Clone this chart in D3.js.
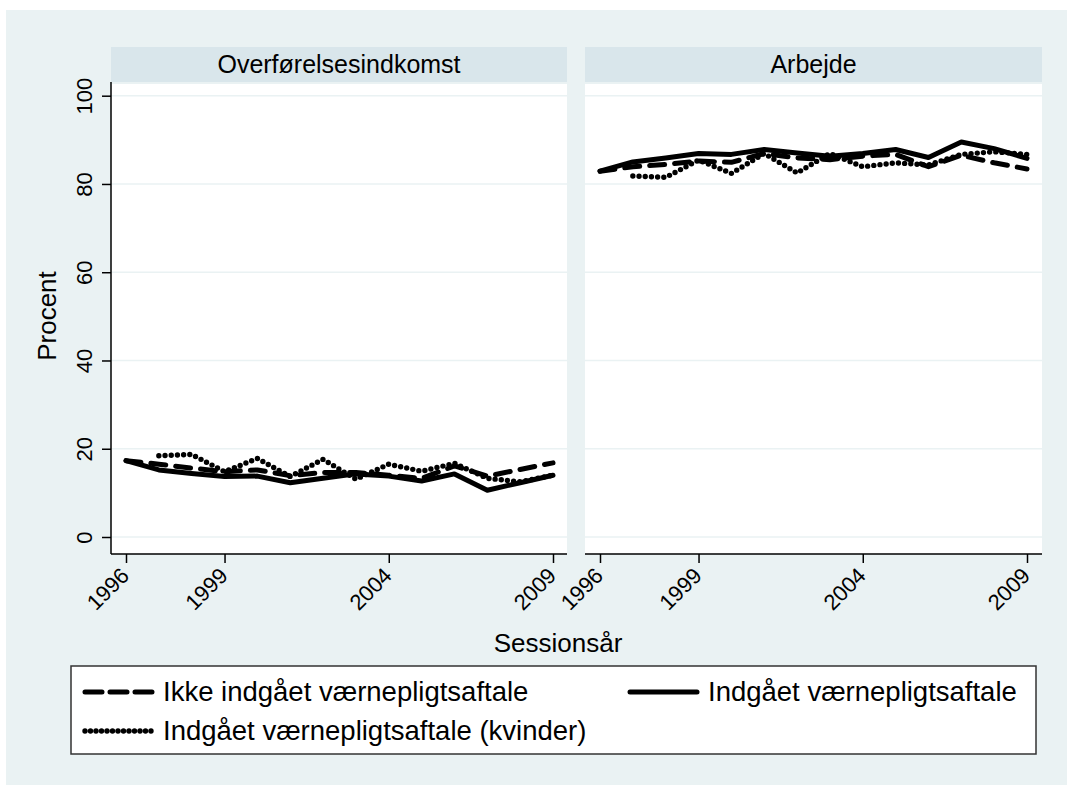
<!DOCTYPE html>
<html>
<head>
<meta charset="utf-8">
<script src="https://cdn.jsdelivr.net/npm/d3@7"></script>
<style>
  html, body { margin: 0; padding: 0; background: #ffffff; }
  text { font-family: "Liberation Sans", Arial, Helvetica, sans-serif; fill: #000; }
</style>
</head>
<body>
<script>
// ---- data ----
const years = [1996,1997,1998,1999,2000,2001,2002,2003,2004,2005,2006,2007,2008,2009];
const panels = ["Overførelsesindkomst", "Arbejde"];
const seriesNames = ["Ikke indgået værnepligtsaftale", "Indgået værnepligtsaftale", "Indgået værnepligtsaftale (kvinder)"];

// Overførelsesindkomst
const overIkke    = [17.3,16.5,15.6,14.8,15.2,13.9,14.6,14.6,14.0,13.3,16.1,13.8,15.3,16.8];
const overIndgaet = [17.3,15.2,14.4,13.7,13.8,12.3,13.3,14.3,13.8,12.7,14.3,10.6,12.3,14.0];
const overKvinder = [null,18.4,18.7,14.8,17.8,13.7,17.6,13.1,16.5,14.9,16.7,13.3,12.5,14.0];

// Arbejde
const arbIkke     = [82.9,83.9,84.4,85.2,84.9,86.9,85.9,85.5,86.3,86.7,83.9,86.5,84.8,83.4];
const arbIndgaet  = [82.9,85.0,85.9,86.9,86.7,87.8,87.0,86.3,86.9,87.8,86.0,89.5,88.0,85.8];
const arbKvinder  = [null,81.8,81.5,85.4,82.4,86.9,82.5,86.9,83.9,84.8,84.3,86.7,87.3,86.7];

const yTicks = [0,20,40,60,80,100];
const xTicks = [1996,1999,2004,2009];
const yTitle = "Procent";
const xTitle = "Sessionsår";

// ---- layout ----
const W = 1067, H = 785;
const svg = d3.select("body").append("svg").attr("width", W).attr("height", H);
svg.append("rect").attr("x",6).attr("y",10).attr("width",W-6).attr("height",H-10).attr("fill","#eaf2f3");

const bg = "#eaf2f3", stripCol = "#d9e6eb";
const stripTop = 47, stripBot = 82, plotTop = 84, plotBot = 554;
const panelX = [[111,567],[585,1042]];
const yScale = d3.scaleLinear().domain([0,100]).range([537, 95.7]);

const styles = [
  {dash: "15 10", width: 5},
  {dash: null, width: 5},
  {dash: "0 6.2", width: 5.4}
];

const data = [
  [overIkke, overIndgaet, overKvinder],
  [arbIkke, arbIndgaet, arbKvinder]
];

panels.forEach((name, i) => {
  const [x0, x1] = panelX[i];
  const off = i === 0 ? 0 : 474;
  const xScale = d3.scaleLinear().domain([1996, 2009]).range([126 + off, 553 + off]);
  const g = svg.append("g");

  // strip
  g.append("rect").attr("x", x0).attr("y", stripTop).attr("width", x1-x0).attr("height", stripBot-stripTop).attr("fill", stripCol);
  g.append("text").attr("x", (x0+x1)/2).attr("y", 73).attr("text-anchor","middle").attr("font-size", 25).text(name);

  // plot area
  g.append("rect").attr("x", x0).attr("y", plotTop).attr("width", x1-x0).attr("height", plotBot-plotTop).attr("fill", "#fff");

  // gridlines
  g.selectAll(".grid").data(yTicks).enter().append("line")
    .attr("x1", x0).attr("x2", x1)
    .attr("y1", d => yScale(d)).attr("y2", d => yScale(d))
    .attr("stroke", bg).attr("stroke-width", 1.5);

  // series
  data[i].forEach((vals, k) => {
    const pts = years.map((y, j) => [y, vals[j]]).filter(p => p[1] !== null);
    const line = d3.line().x(p => xScale(p[0])).y(p => yScale(p[1]));
    const path = g.append("path").datum(pts).attr("d", line)
      .attr("fill","none").attr("stroke","#000")
      .attr("stroke-width", styles[k].width)
      .attr("stroke-linejoin","round").attr("stroke-linecap","round");
    if (styles[k].dash) path.attr("stroke-dasharray", styles[k].dash);
  });

  // x axis
  const xAxis = d3.axisBottom(xScale).tickValues(xTicks).tickFormat(d3.format("d")).tickSize(9).tickPadding(0);
  const ax = g.append("g").attr("transform", `translate(0,${plotBot})`).call(xAxis);
  ax.select(".domain").remove();
  ax.selectAll(".tick line").attr("stroke","#000").attr("stroke-width",1.5);
  ax.selectAll(".tick text").attr("font-size", 22).attr("font-family","Liberation Sans, Arial, sans-serif")
    .attr("text-anchor","end").attr("dy", 0).attr("y", 0)
    .attr("transform", "translate(4,23) rotate(-45)");
  g.append("line").attr("x1", x0).attr("x2", x1).attr("y1", plotBot).attr("y2", plotBot)
    .attr("stroke","#000").attr("stroke-width",1.5);

  if (i === 0) {
    const yAxis = d3.axisLeft(yScale).tickValues(yTicks).tickSize(9).tickPadding(0);
    const ay = g.append("g").attr("transform", `translate(${x0},0)`).call(yAxis);
    ay.select(".domain").remove();
    ay.selectAll(".tick line").attr("stroke","#000").attr("stroke-width",1.5);
    ay.selectAll(".tick text").attr("font-size", 22).attr("font-family","Liberation Sans, Arial, sans-serif")
      .attr("text-anchor","middle").attr("x",0).attr("dy",0)
      .attr("transform", "translate(-19,0) rotate(-90)");
    g.append("line").attr("x1", x0).attr("x2", x0).attr("y1", plotTop-2).attr("y2", plotBot)
      .attr("stroke","#000").attr("stroke-width",1.5);
  }
});

// axis titles
svg.append("text").attr("transform","translate(56,316) rotate(-90)").attr("text-anchor","middle").attr("font-size", 26).text(yTitle);
svg.append("text").attr("x", 558).attr("y", 652).attr("text-anchor","middle").attr("font-size", 26).text(xTitle);

// legend
const lg = svg.append("g");
lg.append("rect").attr("x",71).attr("y",666).attr("width",965).attr("height",88)
  .attr("fill","#fff").attr("stroke","#333").attr("stroke-width",1.5);
const legItems = [
  {k:0, lx:85, ty:692},
  {k:1, lx:630, ty:692},
  {k:2, lx:85, ty:731}
];
legItems.forEach(it => {
  const ln = lg.append("line").attr("x1", it.lx).attr("x2", it.lx+67).attr("y1", it.ty).attr("y2", it.ty)
    .attr("stroke","#000").attr("stroke-width", styles[it.k].width).attr("stroke-linecap","round");
  if (styles[it.k].dash) ln.attr("stroke-dasharray", it.k === 0 ? "17 8" : "0 5.5");
  lg.append("text").attr("x", it.lx + 78).attr("y", it.ty + 9).attr("font-size", 27.5).text(seriesNames[it.k]);
});
</script>
</body>
</html>
